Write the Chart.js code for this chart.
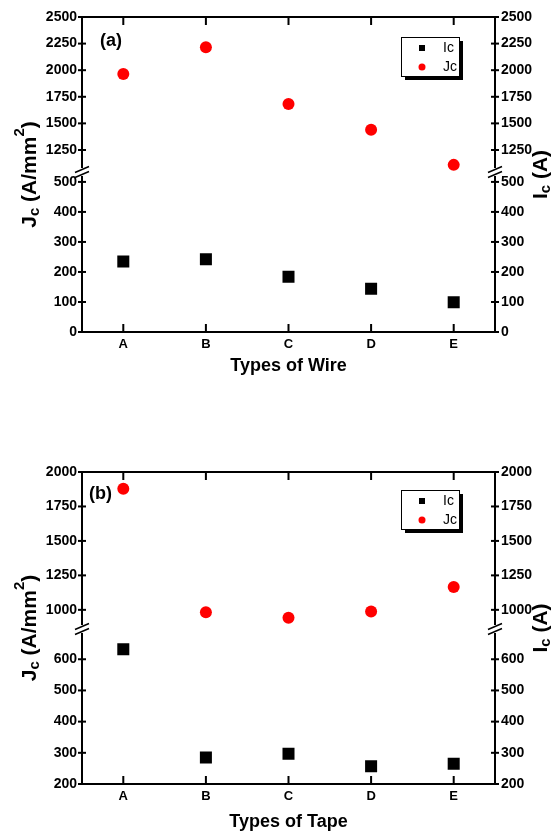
<!DOCTYPE html>
<html>
<head>
<meta charset="utf-8">
<script src="https://cdn.jsdelivr.net/npm/chart.js@4"></script>
<style>
html, body { margin: 0; padding: 0; background: #fff; }
#wrap { position: relative; width: 557px; height: 834px; }
canvas { position: absolute; left: 0; }
#cA { top: 0; }
#cB { top: 420px; }
</style>
</head>
<body>
<div id="wrap">
<canvas id="cA" width="557" height="400"></canvas>
<canvas id="cB" width="557" height="414"></canvas>
</div>
<script>
const types = ['A', 'B', 'C', 'D', 'E'];

// panel (a): wires
const wireIc = [235, 242, 184, 144, 99];
const wireJc = [1965, 2215, 1682, 1440, 1110];
const wireLow = [0, 533];      // lower part of the broken axis
const wireHigh = [1043, 2500]; // upper part

// panel (b): tapes
const tapeIc = [632, 285, 297, 257, 265];
const tapeJc = [1878, 983, 942, 988, 1166];
const tapeLow = [200, 697];
const tapeHigh = [861, 2000];

Chart.defaults.font.family = "'Liberation Sans', Arial, sans-serif";
Chart.defaults.color = '#000';

function yAxis(pos, range, step, weight) {
  return {
    type: 'linear', position: pos, stack: pos, stackWeight: weight,
    min: range[0], max: range[1],
    grid: { display: false, drawTicks: false },
    border: { display: true, color: '#000', width: 2 },
    ticks: {
      autoSkip: false, padding: pos == 'left' ? 5 : 6,
      font: { size: 14, weight: 'bold' }, color: '#000',
      callback: v => String(v)
    },
    // ticks on round multiples of the step only
    afterBuildTicks: s => {
      const out = [];
      for (let v = Math.ceil(s.min / step) * step; v <= s.max; v += step) out.push({ value: v });
      s.ticks = out;
    },
    afterFit: s => { s.width = pos == 'left' ? 82 : 62; }
  };
}

// rotated title with sub/superscripts
function richText(ctx, parts, cx, cy) {
  ctx.save();
  ctx.translate(cx, cy);
  ctx.rotate(-Math.PI / 2);
  let w = 0;
  parts.forEach(p => { ctx.font = 'bold ' + p.s + 'px "Liberation Sans", Arial'; w += ctx.measureText(p.t).width; });
  let x = -w / 2;
  ctx.textBaseline = 'middle';
  ctx.textAlign = 'left';
  parts.forEach(p => {
    ctx.font = 'bold ' + p.s + 'px "Liberation Sans", Arial';
    ctx.fillText(p.t, x, p.dy || 0);
    x += ctx.measureText(p.t).width;
  });
  ctx.restore();
}

const frame = {
  id: 'frame',
  afterDraw(chart, args, o) {
    const { ctx, chartArea: a, scales } = chart;
    ctx.save();
    ctx.strokeStyle = '#000';
    ctx.lineWidth = 2;
    ctx.beginPath();
    ctx.moveTo(a.left - 1, a.top); ctx.lineTo(a.right + 1, a.top);
    ctx.stroke();

    // inward ticks on top and bottom
    const x = scales.x;
    x.ticks.forEach((t, i) => {
      const px = x.getPixelForTick(i);
      ctx.beginPath();
      ctx.moveTo(px, a.top); ctx.lineTo(px, a.top + 8);
      ctx.moveTo(px, a.bottom); ctx.lineTo(px, a.bottom - 8);
      ctx.stroke();
    });

    // crossing ticks on the y axes
    Object.values(scales).filter(s => s.axis == 'y').forEach(s => {
      const bx = s.position == 'left' ? a.left : a.right;
      s.ticks.forEach(t => {
        const py = s.getPixelForValue(t.value);
        ctx.beginPath();
        ctx.moveTo(bx - 4, py); ctx.lineTo(bx + 4, py);
        ctx.stroke();
      });
    });

    // axis break marks
    [[a.left, scales.yTopL.bottom], [a.right, scales.yTopR.bottom]].forEach(([bx, by]) => {
      ctx.fillStyle = '#fff';
      ctx.fillRect(bx - 3, by - 4, 6, 8);
      ctx.lineWidth = 1.5;
      [-2.5, 2.5].forEach(d => {
        ctx.beginPath();
        ctx.moveTo(bx - 7, by + d + 3); ctx.lineTo(bx + 7, by + d - 3);
        ctx.stroke();
      });
    });

    // panel letter
    ctx.fillStyle = '#000';
    ctx.font = 'bold 18px "Liberation Sans", Arial';
    ctx.textBaseline = 'middle';
    ctx.textAlign = 'left';
    ctx.fillText(o.letter, a.left + o.letterPos[0], a.top + o.letterPos[1]);

    // legend box with shadow
    const lx = a.right - 94, ly = a.top + o.legendTop;
    ctx.fillStyle = '#000';
    ctx.fillRect(lx + 4, ly + 4, 58, 39);
    ctx.fillStyle = '#fff';
    ctx.fillRect(lx, ly, 58, 39);
    ctx.lineWidth = 1;
    ctx.strokeRect(lx + 0.5, ly + 0.5, 58, 39);
    ctx.font = '14px "Liberation Sans", Arial';
    chart.data.datasets.forEach((ds, i) => {
      const ry = ly + 11 + i * 19;
      ctx.fillStyle = ds.backgroundColor;
      if (ds.pointStyle == 'rect') {
        ctx.fillRect(lx + 18, ry - 3, 6, 6);
      } else {
        ctx.beginPath(); ctx.arc(lx + 21, ry, 3.5, 0, Math.PI * 2); ctx.fill();
      }
      ctx.fillStyle = '#000';
      ctx.fillText(ds.label, lx + 42, ry);
    });

    // y titles
    const cy = (a.top + a.bottom) / 2;
    ctx.fillStyle = '#000';
    richText(ctx, [
      { t: 'J', s: 21 }, { t: 'c', s: 15, dy: 5 }, { t: ' (A/mm', s: 21 }, { t: '2', s: 15, dy: -10 }, { t: ')', s: 21 }
    ], 30, cy);
    richText(ctx, [
      { t: 'I', s: 21 }, { t: 'c', s: 15, dy: 5 }, { t: ' (A)', s: 21 }
    ], 541, cy);
    ctx.restore();
  }
};

function panel(id, ic, jc, low, high, lowStep, highStep, xTitle, pad, xh, weights, extra) {
  return new Chart(id, {
    type: 'line',
    data: {
      labels: types,
      datasets: [{
        label: 'Ic', data: ic, yAxisID: 'yBotL', showLine: false,
        pointStyle: 'rect', pointRadius: 8.5, pointHoverRadius: 8.5,
        backgroundColor: '#000', borderColor: '#000', borderWidth: 0
      }, {
        label: 'Jc', data: jc, yAxisID: 'yTopL', showLine: false,
        pointStyle: 'circle', pointRadius: 6, pointHoverRadius: 6,
        backgroundColor: '#ff0000', borderColor: '#ff0000', borderWidth: 0
      }]
    },
    options: {
      responsive: false,
      animation: false,
      layout: { padding: pad },
      plugins: { legend: { display: false }, tooltip: { enabled: false }, frame: extra },
      scales: {
        x: {
          type: 'category', offset: true,
          grid: { display: false, drawTicks: false },
          border: { display: true, color: '#000', width: 2 },
          ticks: { padding: 5, font: { size: 13, weight: 'bold' }, color: '#000' },
          title: { display: true, text: xTitle, font: { size: 18, weight: 'bold' }, color: '#000', padding: 0 },
          afterFit: s => { s.height = xh; }
        },
        // left stack is laid out in reverse order: lower part first
        yBotL: yAxis('left', low, lowStep, weights[1]),
        yTopL: yAxis('left', high, highStep, weights[0]),
        yTopR: yAxis('right', high, highStep, weights[0]),
        yBotR: yAxis('right', low, lowStep, weights[1])
      }
    },
    plugins: [frame]
  });
}

panel('cA', wireIc, wireJc, wireLow, wireHigh, 100, 250, 'Types of Wire',
  { top: 17, left: 0, right: 0, bottom: 23 }, 45, [155, 160],
  { letter: '(a)', letterPos: [18, 24], legendTop: 20 });

panel('cB', tapeIc, tapeJc, tapeLow, tapeHigh, 100, 250, 'Types of Tape',
  { top: 52, left: 0, right: 0, bottom: 1 }, 49, [157, 155],
  { letter: '(b)', letterPos: [7, 22], legendTop: 18 });
</script>
</body>
</html>
